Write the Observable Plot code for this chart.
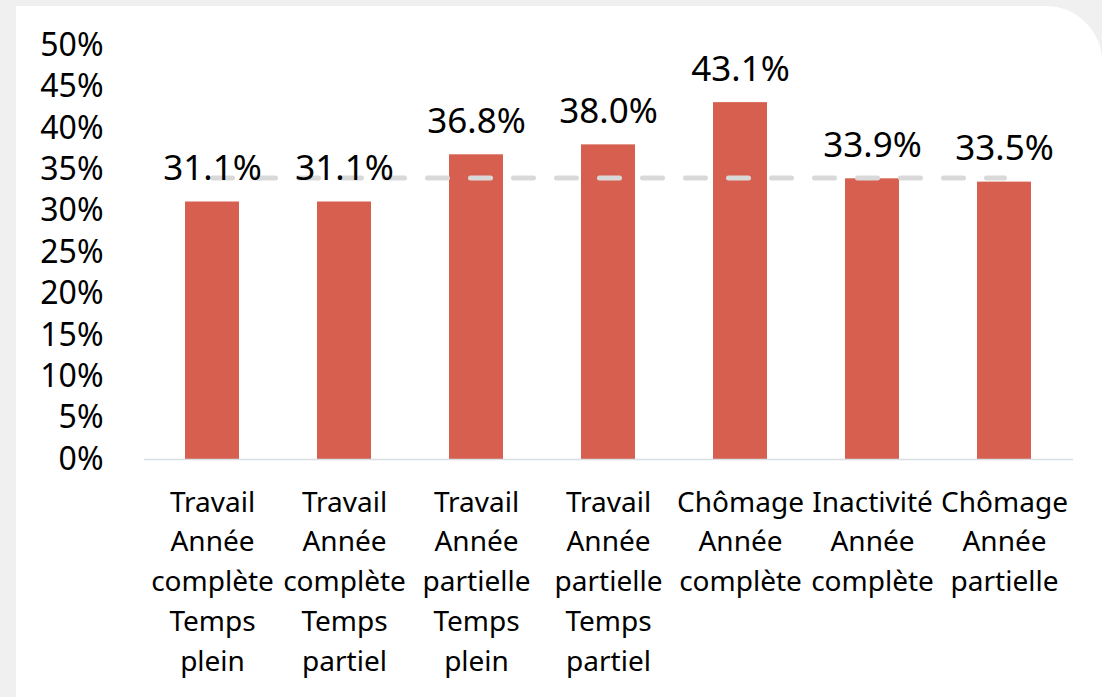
<!DOCTYPE html>
<html><head><meta charset="utf-8">
<script src="https://cdn.jsdelivr.net/npm/d3@7"></script>
<script src="https://cdn.jsdelivr.net/npm/@observablehq/plot@0.6"></script>
<style>
html,body{margin:0;padding:0;background:#f0f0f0;width:1102px;height:697px;overflow:hidden;}
#panel{position:absolute;left:16px;top:6px;width:1086px;height:720px;background:#fff;border-top-right-radius:56px;}
#chart{position:absolute;left:0;top:0;}
</style></head><body>
<div id="panel"></div><div id="chart"></div>
<script>
const categories = [
  "Travail\nAnnée\ncomplète\nTemps\nplein",
  "Travail\nAnnée\ncomplète\nTemps\npartiel",
  "Travail\nAnnée\npartielle\nTemps\nplein",
  "Travail\nAnnée\npartielle\nTemps\npartiel",
  "Chômage\nAnnée\ncomplète",
  "Inactivité\nAnnée\ncomplète",
  "Chômage\nAnnée\npartielle"
];
const values = [0.311, 0.311, 0.368, 0.380, 0.431, 0.339, 0.335];
const average = 0.34;
const yTicks = [0, 0.05, 0.10, 0.15, 0.20, 0.25, 0.30, 0.35, 0.40, 0.45, 0.50];

const data = categories.map((c, i) => ({category: c, value: values[i], avg: average}));

const chart = Plot.plot({
  width: 1102, height: 697,
  marginLeft: 144, marginRight: 29, marginTop: 45, marginBottom: 238,
  style: {background: "transparent", fontFamily: "'Noto Sans', sans-serif", color: "#000"},
  x: {domain: categories, paddingInner: 0.59, paddingOuter: 0.295, label: null},
  y: {domain: [0, 0.5], label: null},
  marks: [
    Plot.axisY({ticks: yTicks, tickFormat: d3.format(".0%"), tickSize: 0, tickPadding: 41, fontSize: 32, label: null}),
    Plot.axisX({tickSize: 0, tickPadding: 24, fontSize: 28, lineHeight: 1.42, label: null, textOverflow: null}),
    Plot.barY(data, {x: "category", y: "value", fill: "#d65f4f"}),
    Plot.ruleY([0], {stroke: "#d9dee6", strokeWidth: 1.5}),
    Plot.lineY(data, {x: "category", y: "avg", stroke: "#d9d9d9", strokeWidth: 5, strokeDasharray: "20,23", strokeLinecap: "round"}),
    Plot.text(data, {x: "category", y: "value", text: d => d3.format(".1%")(d.value), dy: -33, fontSize: 35, lineAnchor: "middle", fill: "#000"})
  ]
});
document.getElementById("chart").appendChild(chart);
</script>
</body></html>
